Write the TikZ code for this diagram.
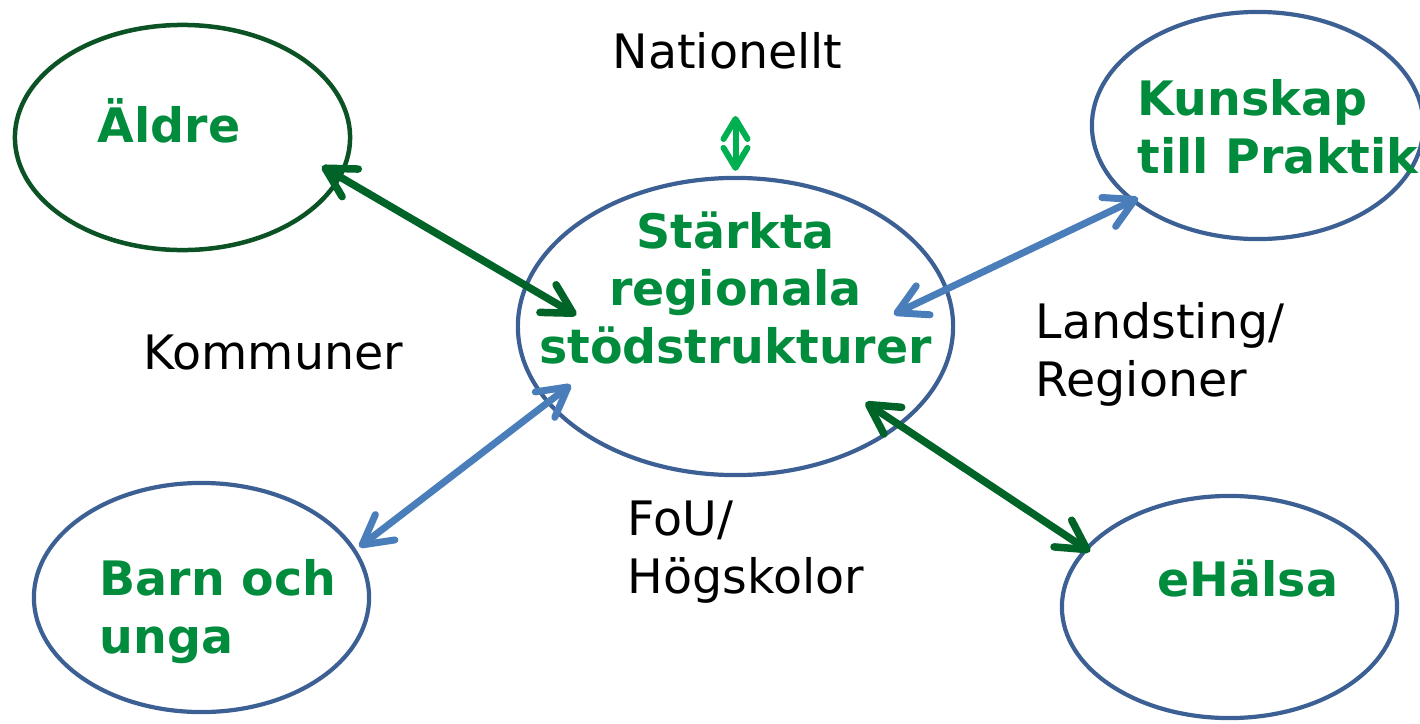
\documentclass[tikz,border=0pt]{standalone}
\usepackage{fontspec}
\setmainfont{DejaVu Sans}
\usepackage{xcolor}
\usetikzlibrary{shapes.geometric,arrows.meta}
\definecolor{rubrik}{HTML}{008C3C}
\definecolor{morkgron}{HTML}{0B5324}
\definecolor{pilgron}{HTML}{006428}
\definecolor{ljusgron}{HTML}{00B050}
\definecolor{kantbla}{HTML}{3C5F94}
\definecolor{pilbla}{HTML}{4A7EBB}
\tikzset{
    green-ellipse/.style = {draw=morkgron, line width=0.045cm, ellipse, inner sep=0pt, outer sep=0pt},
    blue-ellipse/.style = {draw=kantbla, line width=0.042cm, ellipse, inner sep=0pt, outer sep=0pt},
    green-title/.style = {text=rubrik, font=\fontsize{13.5}{16.3}\selectfont\bfseries, inner sep=0pt, anchor=base west, align=left},
    plain-title/.style = {text=black, font=\fontsize{13.5}{16.3}\selectfont, inner sep=0pt, anchor=base west, align=left},
    dark-arrow/.style = {draw=pilgron, line width=0.075cm, {Straight Barb[length=2.9mm,width=3.2mm,round]}-{Straight Barb[length=2.9mm,width=3.2mm,round]}},
    blue-arrow/.style = {draw=pilbla, line width=0.07cm, {Straight Barb[length=2.9mm,width=3.2mm,round]}-{Straight Barb[length=2.9mm,width=3.2mm,round]}},
    small-arrow/.style = {draw=ljusgron, line width=0.06cm, {Straight Barb[length=2mm,width=2.4mm,round]}-{Straight Barb[length=2mm,width=2.4mm,round]}},
}

\begin{document}
\begin{tikzpicture}[x=0.01cm, y=-0.01cm]
\useasboundingbox (0,0) rectangle (1420,724);

% ellipses
\node [green-ellipse, minimum width=3.35cm, minimum height=2.25cm] (aldre) at (182.5,137.5) {};
\node [blue-ellipse, minimum width=3.314cm, minimum height=2.27cm] (kunskap) at (1257.7,125.5) {};
\node [blue-ellipse, minimum width=4.35cm, minimum height=2.97cm] (stod) at (735.5,326.5) {};
\node [blue-ellipse, minimum width=3.35cm, minimum height=2.29cm] (barn) at (201.5,597.5) {};
\node [blue-ellipse, minimum width=3.35cm, minimum height=2.22cm] (ehalsa) at (1229.5,607) {};

% titles (multi-line nodes sit on their last baseline)
\node [green-title] (aldre-text) at (97,142) {Äldre};
\node [green-title] (kunskap-text) at (1137,173) {Kunskap\\till Praktik};
\node [green-title, anchor=base, align=center] (stod-text) at (735.5,363) {Stärkta\\regionala\\stödstrukturer};
\node [green-title] (barn-text) at (99,653) {Barn och\\unga};
\node [green-title] (ehalsa-text) at (1157,596) {eHälsa};

\node [plain-title] (nat) at (612,68) {Nationellt};
\node [plain-title] (kommuner) at (143,369) {Kommuner};
\node [plain-title] (landsting) at (1035,396) {Landsting/\\Regioner};
\node [plain-title] (fou) at (627,593) {FoU/\\Högskolor};

% arrows
\coordinate (nat-pil) at (735.5,116);
\draw [small-arrow, shorten >=2pt] (nat-pil) -- (stod.north);
\draw [dark-arrow, shorten <=-0.205cm, shorten >=-0.58cm] (aldre.-14) -- (stod.169.6);
\draw [blue-arrow, shorten <=-0.056cm, shorten >=-0.58cm] (kunskap.-149.6) -- (stod.10.4);
\draw [blue-arrow, shorten <=0.061cm, shorten >=-0.285cm] (barn.17.9) -- (stod.202.65);
\draw [dark-arrow, shorten <=-0.40cm, shorten >=-0.045cm] (stod.-31.26) -- (ehalsa.158.6);
\end{tikzpicture}
\end{document}
